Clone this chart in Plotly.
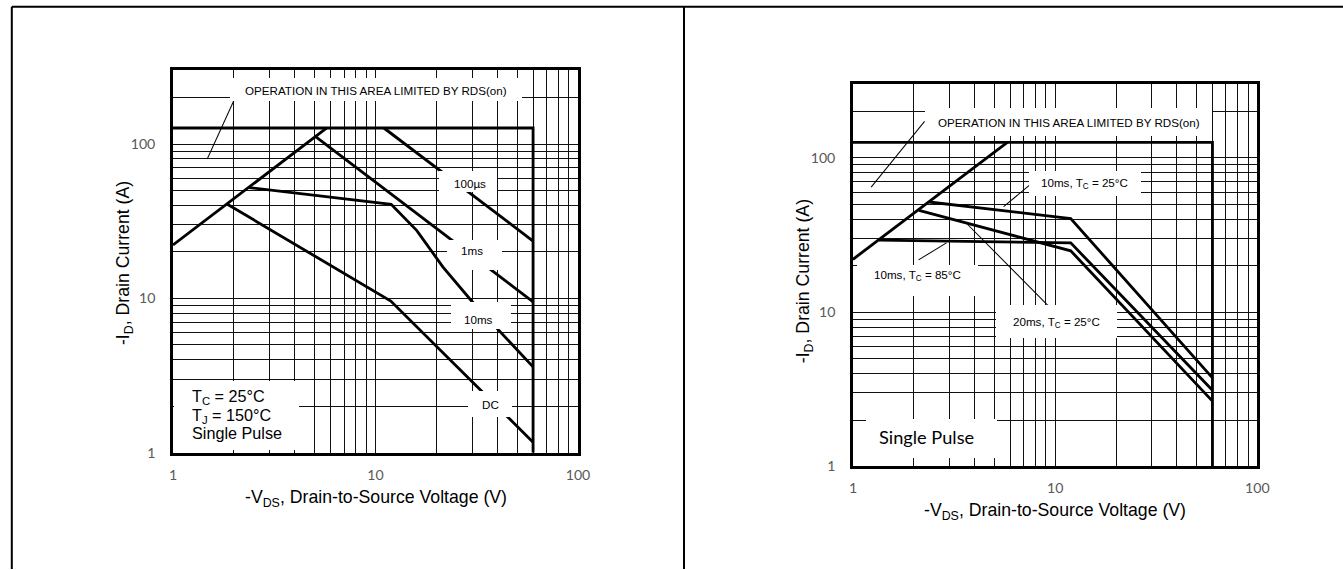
import numpy as np
import plotly.graph_objects as go

# ---------------- data (V in volts, I in amps) ----------------
# Left panel: safe operating area
left_rds_v = [1, 5.75]
left_rds_i = [22.2, 127]
left_limit_v = [1, 60, 60]
left_limit_i = [127, 127, 1]
us100_v = [11, 60]
us100_i = [127, 23.5]
ms1_v = [5.04, 60]
ms1_i = [112, 9.5]
ms10_v = [2.37, 11.95, 16, 21.5, 30.7, 60]
ms10_i = [52.2, 40.7, 27.5, 16, 9.2, 3.6]
dc_v = [1.856, 11.9, 60]
dc_i = [40.7, 9.6, 1.17]
left_leader_v = [2.04, 1.476]
left_leader_i = [203, 80]

# Right panel: SOA vs temperature / pulse width
right_rds_v = [1, 5.8]
right_rds_i = [22, 126]
right_limit_v = [1, 60, 60]
right_limit_i = [126, 126, 1]
t25_10ms_v = [2.38, 11.94, 60]
t25_10ms_i = [51.7, 40.4, 3.75]
t85_10ms_v = [1.345, 11.94, 60]
t85_10ms_i = [29.3, 28.1, 3.12]
t25_20ms_v = [2.12, 11.94, 60]
t25_20ms_i = [45.7, 24.97, 2.65]
right_leader_rds_v = [2.26, 1.23]
right_leader_rds_i = [172, 64.6]
right_leader_25_v = [7.6, 5.56]
right_leader_25_i = [67.7, 48.2]
right_leader_85_v = [2.11, 2.90]
right_leader_85_i = [21.8, 28.1]
right_leader_20_v = [3.68, 9.68]
right_leader_20_i = [37.1, 10.35]

# Axis ticks / grid
grid_x = [1, 2, 3, 4, 5, 6, 7, 8, 9, 10, 20, 30, 40, 50, 60, 70, 80, 90, 100]
grid_y = [1, 2, 3, 4, 5, 6, 7, 8, 9, 10, 20, 30, 40, 50, 60, 70, 80, 90, 100, 200, 300]
labelled = {1: "1", 10: "10", 100: "100"}

W, H = 1343, 570          # reference layout frame (positions below are in this frame)
S = 1359 / 1343           # page scale so the captured page fills the frame
FW, FH = round(W * S), round(H * S)
ARIAL = "Liberation Sans, Arial, sans-serif"
TICKFONT = dict(family="Lato, Liberation Sans, sans-serif", size=14 * S, color="#595959")

fig = go.Figure()

def curve(v, i, xa, ya, width=2.8):
    fig.add_trace(go.Scatter(x=v, y=i, mode="lines", xaxis=xa, yaxis=ya,
                             line=dict(color="black", width=width * S),
                             showlegend=False, hoverinfo="skip"))

# left curves
curve(left_rds_v, left_rds_i, "x", "y")
curve(left_limit_v, left_limit_i, "x", "y")
curve(us100_v, us100_i, "x", "y")
curve(ms1_v, ms1_i, "x", "y")
curve(ms10_v, ms10_i, "x", "y")
curve(dc_v, dc_i, "x", "y")
curve(left_leader_v, left_leader_i, "x", "y", width=1)

# right curves
curve(right_rds_v, right_rds_i, "x2", "y2")
curve(right_limit_v, right_limit_i, "x2", "y2")
curve(t25_10ms_v, t25_10ms_i, "x2", "y2")
curve(t85_10ms_v, t85_10ms_i, "x2", "y2")
curve(t25_20ms_v, t25_20ms_i, "x2", "y2")
curve(right_leader_rds_v, right_leader_rds_i, "x2", "y2", width=1)
curve(right_leader_25_v, right_leader_25_i, "x2", "y2", width=1)
curve(right_leader_85_v, right_leader_85_i, "x2", "y2", width=1)
curve(right_leader_20_v, right_leader_20_i, "x2", "y2", width=1)

def axis_common(vals, rng, standoff):
    return dict(type="log", range=rng, tickmode="array", tickvals=vals,
                ticktext=[labelled.get(v, "") for v in vals],
                showgrid=True, gridcolor="#111111", gridwidth=1.2 * S,
                ticks="", showline=True, linecolor="black", linewidth=2.6 * S,
                mirror=True, zeroline=False, tickfont=TICKFONT,
                ticklabelstandoff=round(standoff * S))

def px_dom_x(a, b):
    return [a / W, b / W]

def px_dom_y(top, bottom):
    return [1 - bottom / H, 1 - top / H]

fig.update_layout(
    width=FW, height=FH, autosize=False,
    margin=dict(l=0, r=0, t=0, b=0),
    paper_bgcolor="white", plot_bgcolor="white",
    xaxis=dict(axis_common(grid_x, [0, 2], 7), domain=px_dom_x(169, 574), anchor="y"),
    yaxis=dict(axis_common(grid_y, [0, np.log10(300)], 12), domain=px_dom_y(70.5, 453.5), anchor="x"),
    xaxis2=dict(axis_common(grid_x, [0, 2], 7), domain=px_dom_x(849, 1253.3), anchor="y2"),
    yaxis2=dict(axis_common(grid_y, [0, np.log10(300)], 12), domain=px_dom_y(84.3, 467.3), anchor="x2"),
)

ann = []

def box(xr, yr, lx, ly, w, h):
    ann.append(dict(xref=xr, yref=yr, x=lx, y=ly, text=" ", showarrow=False,
                    bgcolor="white", width=w * S, height=h * S, borderpad=0, borderwidth=0,
                    xanchor="center", yanchor="middle"))

def label(xr, yr, lx, ly, text, size=11.5, family=ARIAL, xanchor="center"):
    ann.append(dict(xref=xr, yref=yr, x=lx, y=ly, text=text, showarrow=False,
                    font=dict(family=family, size=size * S, color="black"),
                    xanchor=xanchor, yanchor="middle"))

# left panel label boxes + texts (positions in log10 axis units)
box("x", "y", 1.0044, 2.3545, 289, 23)
box("x", "y", 1.4585, 1.7594, 57, 21)
box("x", "y", 1.4906, 1.2840, 54, 30)
box("x", "y", 1.5227, 0.8862, 59, 27)
box("x", "y", 1.5671, 0.3137, 43, 26)
box("x", "y", 0.3160, 0.2426, 124, 68)
label("x", "y", 1.0020, 2.3454, "OPERATION IN THIS AREA LIMITED BY RDS(on)")
label("x", "y", 1.4659, 1.7413, "100µs")
label("x", "y", 1.4758, 1.3131, "1ms")
label("x", "y", 1.5104, 0.8635, "10ms")
label("x", "y", 1.5681, 0.3092, "DC")
label("x", "y", 0.0839, 0.361, "T<sub>C</sub> = 25°C", size=16, xanchor="left")
label("x", "y", 0.0839, 0.238, "T<sub>J</sub> = 150°C", size=16, xanchor="left")
label("x", "y", 0.0839, 0.126, "Single Pulse", size=16, xanchor="left")

# right panel label boxes + texts
box("x2", "y2", 1.0636, 2.2342, 284, 28)
box("x2", "y2", 1.1452, 1.8310, 111, 25)
box("x2", "y2", 0.3166, 1.2052, 120, 31)
box("x2", "y2", 1.0042, 0.9406, 120, 33)
box("x2", "y2", 0.3883, 0.1794, 129, 39)
label("x2", "y2", 1.0670, 2.2290, "OPERATION IN THIS AREA LIMITED BY RDS(on)")
label("x2", "y2", 1.1427, 1.8303, "10ms, T<sub>C</sub> = 25°C")
label("x2", "y2", 0.3166, 1.2406, "10ms, T<sub>C</sub> = 85°C")
label("x2", "y2", 1.0042, 0.9323, "20ms, T<sub>C</sub> = 25°C")
label("x2", "y2", 0.3611, 0.1890, "Single Pulse", size=18,
      family="Lato, Carlito, Calibri, sans-serif")

# axis titles
def title(px, py, text, angle=0):
    ann.append(dict(xref="paper", yref="paper", x=px / W, y=1 - py / H, text=text,
                    showarrow=False, textangle=angle,
                    font=dict(family=ARIAL, size=17.5 * S, color="black"),
                    xanchor="center", yanchor="middle"))

title(371.9, 499.8, "-V<sub>DS</sub>, Drain-to-Source Voltage (V)")
title(120, 263.5, "-I<sub>D</sub>, Drain Current (A)", angle=-90)
title(1050.7, 512.5, "-V<sub>DS</sub>, Drain-to-Source Voltage (V)")
title(800, 281.7, "-I<sub>D</sub>, Drain Current (A)", angle=-90)

fig.update_layout(annotations=ann)

# page frame lines
frame_top = 1 - 6.7 / H
fig.update_layout(shapes=[
    dict(type="line", xref="paper", yref="paper", x0=7.8 / W, x1=1, y0=frame_top, y1=frame_top,
         line=dict(color="black", width=2)),
    dict(type="line", xref="paper", yref="paper", x0=7.8 / W, x1=7.8 / W, y0=0, y1=frame_top,
         line=dict(color="black", width=2)),
    dict(type="line", xref="paper", yref="paper", x0=680 / W, x1=680 / W, y0=0, y1=frame_top,
         line=dict(color="black", width=2)),
])

fig.write_html(
    "out.html",
    config={"displayModeBar": False},
    post_script=(
        "var s=document.createElement('style');"
        "s.textContent='html,body{margin:0!important;padding:0!important;}';"
        "document.head.appendChild(s);"
    ),
)
